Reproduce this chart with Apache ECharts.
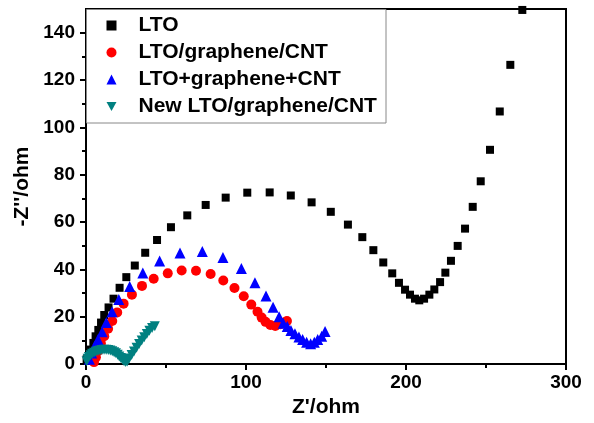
<!DOCTYPE html>
<html><head><meta charset="utf-8">
<script src="https://cdn.jsdelivr.net/npm/echarts@6/dist/echarts.min.js"></script>
<style>html,body{margin:0;padding:0;background:#fff}#c{width:594px;height:423px}</style>
</head><body><div id="c"></div>
<script>
const seriesNames = ['LTO', 'LTO/graphene/CNT', 'LTO+graphene+CNT', 'New LTO/graphene/CNT'];
const seriesColors = ['#000000', '#ff0000', '#0000ff', '#008080'];
const seriesSymbols = ['rect', 'circle', 'triangle', 'path://M0,0 L10,0 L5,9 Z'];
const seriesSizes = [8, 10, 11, 10];

const ltoData = [[0.4,2],[1.9,4],[3.1,6.1],[4.6,8.9],[6,11.7],[7.7,14.4],[9.4,17.5],[11.4,20.7],[14.1,23.9],[17.2,27.6],[21,32.2],[25.2,36.7],[30.5,41.6],[37,47],[44.4,52.4],[53.1,57.8],[63.3,62.8],[74.8,67.2],[87.3,70.3],[100.8,72.4],[114.8,72.5],[128,71.2],[141,68.3],[153,64.3],[163.7,58.9],[172.7,53.6],[179.6,48.1],[185.8,42.9],[191.4,38.3],[195.6,34.3],[199.4,31.4],[202.5,29.3],[205.6,27.6],[208.3,26.9],[211.3,27.6],[214.6,29.3],[217.7,31.5],[221.3,34.6],[224.6,38.6],[228.1,43.6],[232.3,49.9],[236.9,57.2],[241.7,66.4],[246.7,77.2],[252.5,90.5],[258.6,106.7],[265.2,126.4],[272.7,149.6]];
const ltoGrCntData = [[5,0.8],[6.2,2.8],[7.7,5.6],[9.3,8.7],[11.4,11.7],[13.8,14.9],[16.4,18.2],[19.5,21.8],[23.5,25.5],[28.7,29.3],[35,33],[42.3,36],[51.1,38.3],[59.8,39.5],[68.75,39.4],[77.9,38],[85.8,35.3],[92.8,32.1],[98.6,28.6],[103.3,25.1],[107.2,22.1],[109.8,19.6],[112.2,17.8],[115.2,16.5],[118.3,16.1],[121.5,16.8],[124.3,17.6],[125.6,18.2]];
const ltoPlusData = [[2.1,2],[3.5,4.7],[5.4,7.5],[7.5,10.4],[10.1,13.6],[12.7,17.5],[16.3,22.1],[20.5,27.3],[27.3,32.7],[35.5,38.5],[46,43.5],[58.75,46.9],[72.7,47.5],[85.6,45],[97.1,40.3],[105.6,34.3],[112.5,28.7],[116.9,24],[120.7,20],[123.3,17.2],[125.8,15.8],[128.1,14.2],[130.6,12.8],[133.1,11.4],[135.4,10.3],[137.9,9.2],[140.4,8.6],[142.7,9.2],[144.8,10.3],[147.3,11.7],[149.4,13.75]];
const newLtoData = [[0.4,1.2],[1,2.2],[1.8,3.0],[2.8,3.7],[3.8,4.3],[5,4.8],[6.2,5.2],[7.5,5.5],[8.8,5.7],[10,5.9],[11.3,6.0],[12.6,6.0],[13.9,5.9],[15.2,5.7],[16.4,5.4],[17.6,5.0],[18.7,4.5],[19.8,3.9],[20.8,3.2],[21.8,2.5],[22.8,1.8],[23.8,1.2],[24.8,0.8],[25.8,1.1],[27,2.3],[28.5,3.8],[30,5.3],[31.6,6.9],[33.2,8.4],[34.8,9.9],[36.4,11.3],[38,12.7],[39.6,14],[41.3,15.2],[43,16]];
const allData = [ltoData, ltoGrCntData, ltoPlusData, newLtoData];

const xTickLabels = [0, 100, 200, 300];
const yTickLabels = [0, 20, 40, 60, 80, 100, 120, 140];
const xMinorTicks = [50, 150, 250];
const yMinorTicks = [10, 30, 50, 70, 90, 110, 130];

const FONT = '"Liberation Sans", Arial, sans-serif';
const chart = echarts.init(document.getElementById('c'), null, {renderer: 'canvas'});

const lbl = {fontFamily: FONT, fontWeight: 'bold', fontSize: 19, color: '#000'};
const nameStyle = {fontFamily: FONT, fontWeight: 'bold', fontSize: 21, color: '#000'};
const axLine = {show: true, onZero: false, lineStyle: {color: '#000', width: 2}};

chart.setOption({
  animation: false,
  backgroundColor: '#fff',
  grid: {left: 86, right: 28, top: 9, bottom: 55, show: true, borderColor: '#000', borderWidth: 2, backgroundColor: 'transparent'},
  graphic: [{
    type: 'rect', z: 1, silent: true,
    shape: {x: 86.5, y: 9.5, width: 299.5, height: 113.5},
    style: {fill: 'none', stroke: '#888', lineWidth: 1}
  }],
  legend: {
    orient: 'vertical', left: 106.5, top: 15, padding: 0,
    itemWidth: 10, itemHeight: 10, itemGap: 6,
    data: seriesNames,
    textStyle: {fontFamily: FONT, fontWeight: 'bold', fontSize: 21, lineHeight: 21, color: '#000', padding: [0, 0, 0, 17]}
  },
  xAxis: [{
    type: 'value', min: 0, max: 300, interval: 100, position: 'bottom',
    axisLine: axLine,
    axisTick: {show: true, length: 6, customValues: xTickLabels, lineStyle: {color: '#000', width: 2}},
    axisLabel: Object.assign({customValues: xTickLabels, margin: 9}, lbl),
    splitLine: {show: false},
    name: "Z'/ohm", nameLocation: 'middle', nameGap: 33, nameTextStyle: nameStyle
  }, {
    type: 'value', min: 0, max: 300, position: 'bottom',
    axisLine: {show: false, onZero: false},
    axisTick: {show: true, length: 4, customValues: xMinorTicks, lineStyle: {color: '#000', width: 2}},
    axisLabel: {show: false}, splitLine: {show: false}
  }],
  yAxis: [{
    type: 'value', min: 0, max: 150, interval: 10, position: 'left',
    axisLine: axLine,
    axisTick: {show: true, length: 6, customValues: yTickLabels, lineStyle: {color: '#000', width: 2}},
    axisLabel: Object.assign({customValues: yTickLabels, margin: 11}, lbl),
    splitLine: {show: false},
    name: "-Z''/ohm", nameLocation: 'middle', nameGap: 47, nameTextStyle: nameStyle
  }, {
    type: 'value', min: 0, max: 150, position: 'left',
    axisLine: {show: false, onZero: false},
    axisTick: {show: true, length: 4, customValues: yMinorTicks, lineStyle: {color: '#000', width: 2}},
    axisLabel: {show: false}, splitLine: {show: false}
  }],
  series: seriesNames.map((n, i) => ({
    name: n, type: 'scatter', xAxisIndex: 0, yAxisIndex: 0,
    symbol: seriesSymbols[i], symbolSize: seriesSizes[i],
    itemStyle: {color: seriesColors[i], opacity: 1},
    data: allData[i], z: 2 + i
  }))
});
</script></body></html>
